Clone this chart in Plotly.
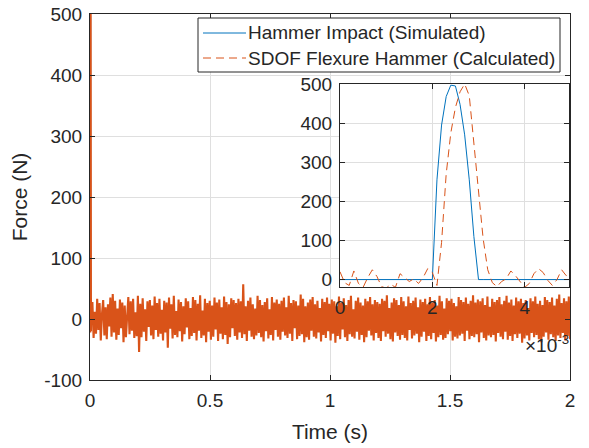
import numpy as np
import plotly.graph_objects as go

# ---------------- data ----------------
# fine sampling of the first 5 ms (in milliseconds), 0.1 ms step
t_fine_ms = [round(0.1 * k, 1) for k in range(51)]

hammer_fine = [0, 0, 0, 0, 0, 0, 0, 0, 0, 0,
               0, 0, 0, 0, 0, 0, 0, 0, 0, 0,
               0, 255, 395, 468, 497, 495, 448, 370, 255, 110, 0,
               0, 0, 0, 0, 0, 0, 0, 0, 0, 0,
               0, 0, 0, 0, 0, 0, 0, 0, 0, 0]

sdof_fine = [20, -8, -15, 22, -10, -20, 5, 25, 8, -18,
             -22, -12, -20, 15, 5, -5, 2, -10, 5, 28,
             18, -15, 95, 270, 375, 440, 480, 500, 470, 350,
             215, 105, 25, -8, -18, -5, 2, 22, 10, -5,
             -20, -10, 15, 28, 18, -2, -15, 0, 25, 10, 15]

# coarse remainder of the record (0.01 s .. 2 s), calculated force noise
sdof_noise = [
    28, -31, 12, -24, 33, -18, 26, -35, 8, 31, -27, 19, -33, 24, -12, 35, -29, 41, -22, 30,
    -34, 17, -26, 32, -15, 27, -38, 22, -30, 14, 36, -25, 29, -19, 33, -31, 11, -28, 38, -54,
    25, -30, 34, -21, 16, -36, 29, -13, 31, -27, 22, -33, 37, -18, 26, -29, 33, -24, 15, -35,
    30, -22, 27, -47, 35, -16, 24, -32, 38, -26, 13, -30, 32, -20, 28, -37, 21, -25, 34, -14,
    29, -33, 18, -28, 36, -23, 31, -35, 25, -19, 39, -31, 14, -27, 33, -38, 26, -21, 30, -34,
    22, -29, 35, -17, 27, -36, 32, -24, 19, -33, 37, -26, 28, -41, 24, -30, 34, -15, 31, -28,
    26, -34, 33, -22, 29, -31, 57, -25, 21, -36, 30, -19, 35, -29, 24, -33, 17, -27, 38, -23,
    31, -30, 23, -37, 28, -20, 34, -32, 16, -26, 36, -35, 27, -18, 32, -29, 25, -34, 30, -21,
    35, -27, 19, -31, 38, -24, 26, -36, 31, -15, 29, -33, 22, -28, 40, -25, 33, -38, 21, -30,
    27, -34, 32, -19, 36, -29, 24, -32, 30, -22, 18, -37, 33, -26, 28, -31, 35, -20, 25, -35,
    32, -24, 29, -39, 21, -28, 37, -33, 26, -17, 34, -30, 23, -36, 31, -25, 38, -29, 16, -32,
    30, -21, 35, -34, 27, -26, 22, -38, 33, -30, 29, -19, 36, -27, 24, -35, 31, -23, 28, -31,
    25, -36, 33, -20, 30, -29, 39, -24, 18, -33, 27, -37, 34, -22, 31, -28, 23, -34, 36, -26,
    29, -31, 21, -35, 37, -18, 26, -32, 30, -27, 35, -24, 19, -38, 32, -29, 28, -21, 33, -36,
    24, -28, 36, -33, 27, -23, 31, -37, 22, -30, 38, -26, 29, -34, 17, -31, 34, -25, 30, -20,
    33, -35, 26, -29, 21, -32, 36, -27, 31, -24, 28, -36, 35, -19, 25, -33, 30, -28, 39, -30,
    27, -25, 32, -38, 29, -22, 34, -31, 23, -35, 37, -27, 20, -30, 33, -26, 28, -37, 31, -23,
    36, -29, 24, -33, 30, -21, 38, -34, 27, -28, 32, -36, 22, -25, 35, -31, 29, -24, 33, -39,
    26, -32, 31, -27, 18, -35, 34, -23, 29, -30, 37, -26, 25, -33, 30, -38, 23, -29, 36, -22,
    31, -34, 28, -25, 35, -30, 22, -36, 33, -27, 40, -31, 26, -23, 34, -35, 29, -28, 37, -33,
]
hammer_coarse = [0.0] * len(sdof_noise)

t_fine = np.array(t_fine_ms) / 1000.0
t_coarse = np.linspace(0.01, 2.0, len(sdof_noise))
t_all = np.concatenate([t_fine, t_coarse])
hammer_all = np.array(hammer_fine + hammer_coarse, dtype=float)
sdof_all = np.array(sdof_fine + sdof_noise, dtype=float)

main_xticks = [0, 0.5, 1, 1.5, 2]
main_xlabels = ["0", "0.5", "1", "1.5", "2"]
main_yticks = [-100, 0, 100, 200, 300, 400, 500]
main_ylabels = ["-100", "0", "100", "200", "300", "400", "500"]
inset_xticks = [0, 0.002, 0.004]
inset_xlabels = ["0", "2", "4"]
inset_yticks = [0, 100, 200, 300, 400, 500]
inset_ylabels = ["0", "100", "200", "300", "400", "500"]

names = ["Hammer Impact (Simulated)", "SDOF Flexure Hammer (Calculated)"]

BLUE = "#0072BD"
ORANGE = "#D95319"
AX = "#262626"
GRID = "#dfdfdf"
FONT = "Liberation Sans, Arial, sans-serif"

W, H = 589, 448
ML, MR, MT, MB = 90, 19, 14, 68
PW, PH = W - ML - MR, H - MT - MB


def px2x(px):
    return (px - ML) / PW


def py2y(py):
    return (H - MB - py) / PH


fig = go.Figure()
# main axes
fig.add_trace(go.Scatter(x=t_all, y=hammer_all, mode="lines", line=dict(color=BLUE, width=1),
                         name=names[0], showlegend=False, xaxis="x", yaxis="y"))
fig.add_trace(go.Scatter(x=t_all, y=sdof_all, mode="lines", line=dict(color=ORANGE, width=2.1),
                         name=names[1], showlegend=False, xaxis="x", yaxis="y"))
# inset axes
fig.add_trace(go.Scatter(x=t_all, y=hammer_all, mode="lines", line=dict(color=BLUE, width=1),
                         name=names[0], showlegend=False, xaxis="x2", yaxis="y2"))
fig.add_trace(go.Scatter(x=t_all, y=sdof_all, mode="lines",
                         line=dict(color=ORANGE, width=1, dash="8px,5px"),
                         name=names[1], showlegend=False, xaxis="x2", yaxis="y2"))

axis_common = dict(showline=True, linecolor=AX, linewidth=1, mirror="ticks", ticks="inside",
                   ticklen=5, tickcolor=AX, showgrid=True, gridcolor=GRID, gridwidth=1,
                   zeroline=False, automargin=False, ticklabelstandoff=3,
                   tickfont=dict(size=19, color=AX, family=FONT))

# hand-placed legend box (matches the reference legend)
leg_x0, leg_x1, leg_y0, leg_y1 = 198, 560, 18, 72
rows_y = [33, 58]
shapes = [
    dict(type="rect", xref="paper", yref="paper", x0=px2x(leg_x0), x1=px2x(leg_x1),
         y0=py2y(leg_y1), y1=py2y(leg_y0), fillcolor="white", line=dict(color=AX, width=1),
         layer="above"),
    dict(type="line", xref="paper", yref="paper", x0=px2x(203), x1=px2x(246),
         y0=py2y(rows_y[0]), y1=py2y(rows_y[0]), line=dict(color=BLUE, width=1), layer="above"),
    dict(type="line", xref="paper", yref="paper", x0=px2x(203), x1=px2x(246),
         y0=py2y(rows_y[1]), y1=py2y(rows_y[1]), line=dict(color=ORANGE, width=1, dash="8px,5px"),
         layer="above"),
]
annotations = [
    dict(text=names[i], xref="paper", yref="paper", x=px2x(246), y=py2y(rows_y[i]),
         xanchor="left", yanchor="middle", showarrow=False,
         font=dict(size=19, color=AX, family=FONT)) for i in range(2)
]
annotations.append(dict(text="×10<sup>-3</sup>", xref="paper", yref="paper", x=px2x(571),
                        y=py2y(344), xanchor="right", yanchor="middle", showarrow=False,
                        font=dict(size=19, color=AX, family=FONT)))

fig.update_layout(
    width=W, height=H,
    margin=dict(l=ML, r=MR, t=MT, b=MB),
    paper_bgcolor="white", plot_bgcolor="white",
    font=dict(family=FONT, color=AX),
    showlegend=False,
    xaxis=dict(domain=[0, 1], range=[0, 2], tickvals=main_xticks, ticktext=main_xlabels,
               title=dict(text="Time (s)", font=dict(size=21, color=AX), standoff=14),
               anchor="y", **axis_common),
    yaxis=dict(domain=[0, 1], range=[-100, 500], tickvals=main_yticks, ticktext=main_ylabels,
               title=dict(text="Force (N)", font=dict(size=21, color=AX), standoff=10),
               anchor="x", **axis_common),
    xaxis2=dict(domain=[px2x(340), px2x(569)], range=[0, 0.00496], tickvals=inset_xticks,
                ticktext=inset_xlabels, anchor="y2", **axis_common),
    yaxis2=dict(domain=[py2y(287), py2y(84)], range=[-19, 500], tickvals=inset_yticks,
                ticktext=inset_ylabels, anchor="x2", **axis_common),
    shapes=shapes,
    annotations=annotations,
)

fig.write_html("out.html", config={"displayModeBar": False},
               post_script="document.body.style.margin='0';document.body.style.padding='0';")
